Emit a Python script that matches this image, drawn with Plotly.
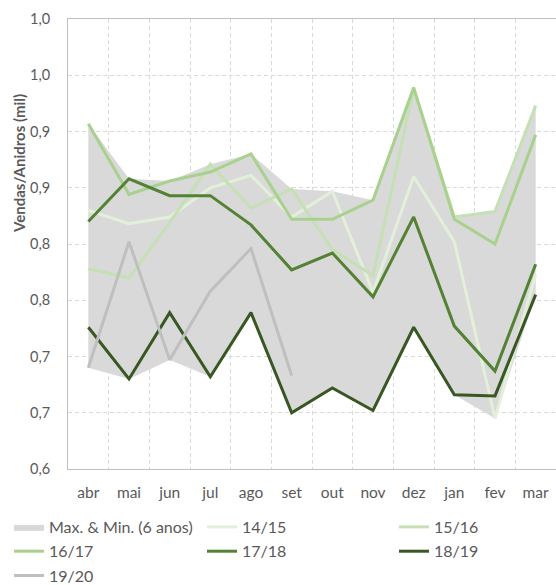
import numpy as np
import plotly.graph_objects as go

months = ["abr", "mai", "jun", "jul", "ago", "set", "out", "nov", "dez", "jan", "fev", "mar"]

s1415 = [0.830, 0.818, 0.824, 0.850, 0.861, 0.824, 0.847, 0.757, 0.860, 0.802, 0.645, 0.773]
s1516 = [0.778, 0.770, 0.819, 0.871, 0.832, 0.849, 0.795, 0.772, 0.938, 0.824, 0.829, 0.923]
s1617 = [0.907, 0.844, 0.856, 0.864, 0.880, 0.822, 0.822, 0.839, 0.939, 0.822, 0.800, 0.897]
s1718 = [0.820, 0.858, 0.843, 0.843, 0.817, 0.777, 0.792, 0.753, 0.824, 0.727, 0.687, 0.782]
s1819 = [0.726, 0.680, 0.739, 0.682, 0.739, 0.650, 0.672, 0.652, 0.726, 0.666, 0.665, 0.755]
s1920 = [0.690, 0.802, 0.697, 0.758, 0.796, 0.683]

y_tickvals = [0.60, 0.65, 0.70, 0.75, 0.80, 0.85, 0.90, 0.95, 1.00]
y_ticktext = ["0,6", "0,7", "0,7", "0,8", "0,8", "0,9", "0,9", "1,0", "1,0"]

series = [
    ("14/15", s1415, "#e2f0d9"),
    ("15/16", s1516, "#c5e0b4"),
    ("16/17", s1617, "#a9d18e"),
    ("17/18", s1718, "#548235"),
    ("18/19", s1819, "#385723"),
    ("19/20", s1920, "#bfbfbf"),
]

# Max & Min over the six seasons
mat = np.full((len(series), len(months)), np.nan)
for i, (_, vals, _) in enumerate(series):
    mat[i, :len(vals)] = vals
area_max = np.nanmax(mat, axis=0)
area_min = np.nanmin(mat, axis=0)

FONT = "Lato"
TXT = "#595959"

legend_of = {"Max. & Min. (6 anos)": "legend", "14/15": "legend2", "15/16": "legend3",
             "16/17": "legend", "17/18": "legend2", "18/19": "legend3", "19/20": "legend"}

fig = go.Figure()
fig.add_trace(go.Scatter(x=months, y=area_min, mode="lines", line=dict(width=0),
                         showlegend=False, hoverinfo="skip"))
fig.add_trace(go.Scatter(x=months, y=area_max, mode="lines", line=dict(width=0),
                         fill="tonexty", fillcolor="#d9d9d9",
                         name="Max. & Min. (6 anos)", legend="legend",
                         legendgroup="g0"))
for k, (name, vals, col) in enumerate(series):
    fig.add_trace(go.Scatter(x=months[:len(vals)], y=vals, mode="lines", name=name,
                             line=dict(color=col, width=3), legend=legend_of[name],
                             legendgroup="g%d" % (k + 1)))

leg_common = dict(orientation="v", xref="container", yref="container", xanchor="left",
                  yanchor="top", font=dict(family=FONT, size=16, color=TXT),
                  bgcolor="rgba(0,0,0,0)", tracegroupgap=0.5, itemwidth=30)
legend_top = 1 - 510 / 585

fig.update_layout(
    width=556, height=585,
    margin=dict(l=68, r=0, t=19, b=116, autoexpand=False),
    paper_bgcolor="white", plot_bgcolor="white",
    font=dict(family=FONT, size=14, color=TXT),
    xaxis=dict(type="category", range=[-0.5, 11.5], tickson="boundaries",
               showgrid=True, gridcolor="#d9d9d9", griddash="4px,3px", gridwidth=1,
               showline=True, linecolor="#bfbfbf", linewidth=1, mirror=True,
               ticks="", ticklabelstandoff=9, tickfont=dict(family=FONT, size=15.5, color=TXT),
               zeroline=False),
    yaxis=dict(range=[0.6, 1.0], tickvals=y_tickvals, ticktext=y_ticktext,
               showgrid=True, gridcolor="#d9d9d9", griddash="4px,3px", gridwidth=1,
               showline=True, linecolor="#bfbfbf", linewidth=1,
               ticks="", ticklabelstandoff=14, tickfont=dict(family=FONT, size=14.5, color=TXT),
               zeroline=False),
    legend=dict(x=9 / 556, y=legend_top, **leg_common),
    legend2=dict(x=202 / 556, y=legend_top, **leg_common),
    legend3=dict(x=394 / 556, y=legend_top, **leg_common),
    annotations=[dict(text="<b>Vendas/Anidros (mil)</b>", textangle=-90,
                      xref="paper", yref="paper", x=(19 - 68) / 488, y=(469 - 164) / 450,
                      xanchor="center", yanchor="middle", showarrow=False,
                      font=dict(family=FONT, size=15, color=TXT))],
)

fig.write_html("out.html", config={"displayModeBar": False},
               post_script="document.body.style.margin='0px';")
